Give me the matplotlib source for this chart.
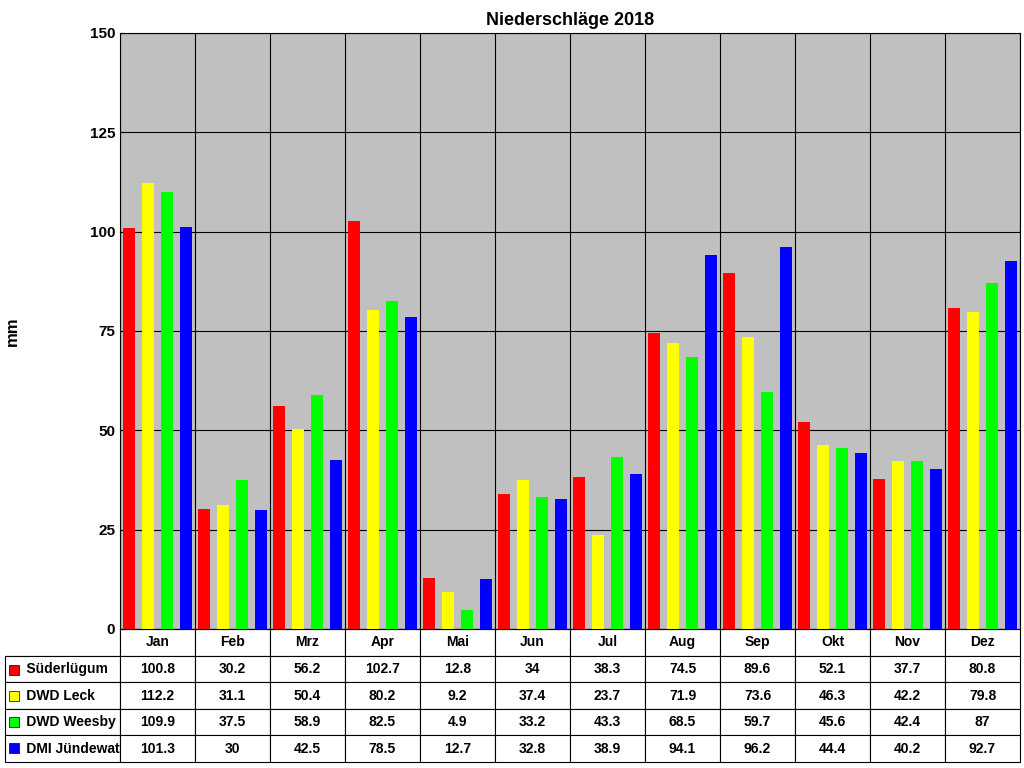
import numpy as np
import matplotlib.pyplot as plt
from matplotlib.patches import Rectangle

plt.rcParams['font.family'] = ['Liberation Sans', 'DejaVu Sans']
plt.rcParams['font.weight'] = 'bold'

months = ['Jan', 'Feb', 'Mrz', 'Apr', 'Mai', 'Jun', 'Jul', 'Aug', 'Sep', 'Okt', 'Nov', 'Dez']
stations = ['Süderlügum', 'DWD Leck', 'DWD Weesby', 'DMI Jündewatt']
colors = ['#FF0000', '#FFFF00', '#00FF00', '#0000FF']
suederluegum = [100.8, 30.2, 56.2, 102.7, 12.8, 34, 38.3, 74.5, 89.6, 52.1, 37.7, 80.8]
leck = [112.2, 31.1, 50.4, 80.2, 9.2, 37.4, 23.7, 71.9, 73.6, 46.3, 42.2, 79.8]
weesby = [109.9, 37.5, 58.9, 82.5, 4.9, 33.2, 43.3, 68.5, 59.7, 45.6, 42.4, 87]
juendewatt = [101.3, 30, 42.5, 78.5, 12.7, 32.8, 38.9, 94.1, 96.2, 44.4, 40.2, 92.7]
series = [suederluegum, leck, weesby, juendewatt]

fig = plt.figure(figsize=(10.24, 7.68), dpi=100)
ax = fig.add_axes([120/1024, 1-629/768, 900/1024, 596/768])
ax.set_facecolor('#C0C0C0')

x = np.arange(len(months))
w = 0.16
for i, (vals, c) in enumerate(zip(series, colors)):
    ax.bar(x + (i - 1.5) * 0.25, vals, w, color=c, zorder=3)

ax.set_xlim(-0.5, 11.5)
ax.set_ylim(0, 150)
ax.set_yticks(range(0, 151, 25))
ax.set_xticks(np.arange(-0.5, 12, 1))
ax.set_xticklabels([])
ax.tick_params(axis='x', length=0)
ax.tick_params(axis='y', labelsize=11, direction='in')
ax.grid(True, color='black', linewidth=0.8, zorder=1)
ax.set_ylabel('mm', fontsize=12, fontweight='bold', labelpad=50)
ax.set_title('Niederschläge 2018', fontsize=13, fontweight='bold', pad=6)
for s in ax.spines.values():
    s.set_linewidth(0.8)

# table: first column holds station names
cell_text = [['     ' + st] + [('%g' % v) for v in vals] for st, vals in zip(stations, series)]
tab = ax.table(cellText=cell_text, colLabels=[''] + months,
               bbox=[-115/900, -133/596, 1 + 115/900, 133/596], cellLoc='center')
tab.auto_set_font_size(False)
tab.set_fontsize(10)
total = 115 + 900
for (r, c), cell in tab.get_celld().items():
    cell.set_linewidth(0.8)
    cell.get_text().set_fontweight('bold')
    cell.set_width((115 if c == 0 else 75) / total)
    if c == 0:
        cell.get_text().set_horizontalalignment('left')
        cell.PAD = 0.02
    if r == 0 and c == 0:
        cell.visible_edges = 'BR'

# legend keys beside station names
for i, c in enumerate(colors):
    yc = 1 - (657 + 26 * i + 13) / 768
    fig.patches.append(Rectangle((9/1024, yc - 5/768), 10/1024, 10/768,
                                 transform=fig.transFigure, facecolor=c,
                                 edgecolor='black', linewidth=0.5))

fig.savefig('out.png', dpi=100)
